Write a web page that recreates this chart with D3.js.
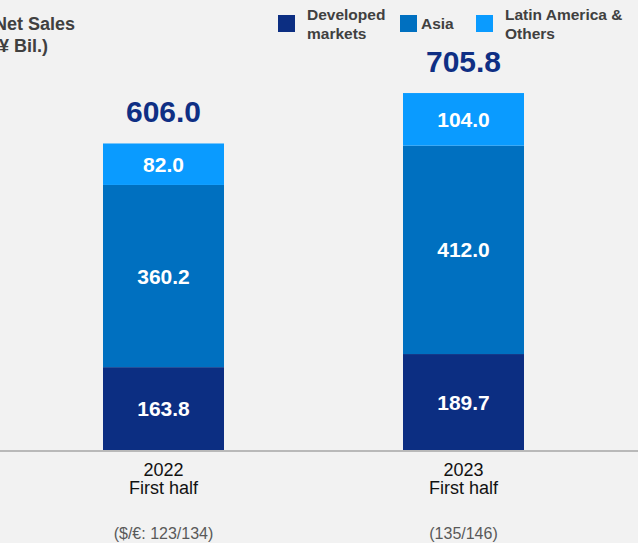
<!DOCTYPE html>
<html>
<head>
<meta charset="utf-8">
<script src="https://cdn.jsdelivr.net/npm/d3@7"></script>
<style>
  html, body { margin: 0; padding: 0; background: #f2f2f2; }
  svg { display: block; font-family: Arial, "Liberation Sans", sans-serif; }
</style>
</head>
<body>
<svg id="chart" width="638" height="543"></svg>
<script>
// Net sales by region, first half of each year (¥ billion)
const periods = ["2022", "2023"];
const periodSub = ["First half", "First half"];
const fxRates = ["($/€: 123/134)", "(135/146)"];
const regions = ["Developed markets", "Asia", "Latin America & Others"];
const developed = [163.8, 189.7];
const asia = [360.2, 412.0];
const latin = [82.0, 104.0];
const totals = [606.0, 705.8];
const regionColors = ["#0c2e82", "#0070c0", "#0a9bff"];

const svg = d3.select("#chart");
const baseY = 450;

const xPos = d3.scaleOrdinal().domain(periods).range([103, 403]);
const barW = 121;
const y = d3.scaleLinear().domain([0, 705.8]).range([baseY, 93]);

const series = [developed, asia, latin];
const stacked = periods.map((p, i) => {
  let acc = 0;
  return series.map((s, k) => {
    const seg = { period: p, k, v: s[i], y0: acc, y1: acc + s[i] };
    acc += s[i];
    return seg;
  });
});

const g = svg.append("g");
stacked.forEach(segs => {
  g.selectAll(null).data(segs).enter().append("rect")
    .attr("x", d => xPos(d.period))
    .attr("width", barW)
    .attr("y", d => y(d.y1))
    .attr("height", d => y(d.y0) - y(d.y1))
    .attr("fill", d => regionColors[d.k]);
  g.selectAll(null).data(segs).enter().append("text")
    .attr("x", d => xPos(d.period) + barW / 2)
    .attr("y", d => (y(d.y0) + y(d.y1)) / 2 + 7.5)
    .attr("text-anchor", "middle")
    .attr("fill", "#ffffff")
    .attr("font-weight", "bold")
    .attr("font-size", 21)
    .text(d => d.v.toFixed(1));
});

// totals above each bar
g.selectAll(null).data(periods).enter().append("text")
  .attr("x", p => xPos(p) + barW / 2)
  .attr("y", (p, i) => y(totals[i]) - 21)
  .attr("text-anchor", "middle")
  .attr("fill", "#0f2f84")
  .attr("font-weight", "bold")
  .attr("font-size", 30)
  .text((p, i) => totals[i].toFixed(1));

// baseline
svg.append("line")
  .attr("x1", 0).attr("x2", 638)
  .attr("y1", baseY + 1).attr("y2", baseY + 1)
  .attr("stroke", "#a6a6a6").attr("stroke-width", 1.5);

// category labels
const cat = svg.append("g");
periods.forEach((p, i) => {
  const cx = xPos(p) + barW / 2;
  cat.append("text").attr("x", cx).attr("y", 476).attr("text-anchor", "middle")
    .attr("font-size", 18).attr("fill", "#111").text(p);
  cat.append("text").attr("x", cx).attr("y", 494).attr("text-anchor", "middle")
    .attr("font-size", 18).attr("fill", "#111").text(periodSub[i]);
  cat.append("text").attr("x", cx).attr("y", 539).attr("text-anchor", "middle")
    .attr("font-size", 16).attr("fill", "#595959").text(fxRates[i]);
});

// axis title
svg.append("text").attr("x", -6).attr("y", 30)
  .attr("font-size", 18).attr("font-weight", "bold").attr("fill", "#404040").text("Net Sales");
svg.append("text").attr("x", -7).attr("y", 52)
  .attr("font-size", 18).attr("font-weight", "bold").attr("fill", "#404040").text("(¥ Bil.)");

// legend
const legendItems = [
  { sq: 278, tx: 307, lines: ["Developed", "markets"] },
  { sq: 400, tx: 421, lines: ["Asia"] },
  { sq: 476, tx: 505, lines: ["Latin America &", "Others"] }
];
const lg = svg.append("g");
legendItems.forEach((it, k) => {
  lg.append("rect").attr("x", it.sq).attr("y", 15).attr("width", 17).attr("height", 17)
    .attr("fill", regionColors[k]);
  const t = lg.append("text").attr("font-size", 15.5).attr("font-weight", "bold").attr("fill", "#404040");
  if (it.lines.length === 1) {
    t.append("tspan").attr("x", it.tx).attr("y", 29).text(it.lines[0]);
  } else {
    t.append("tspan").attr("x", it.tx).attr("y", 20).text(it.lines[0]);
    t.append("tspan").attr("x", it.tx).attr("y", 39).text(it.lines[1]);
  }
});
</script>
</body>
</html>
